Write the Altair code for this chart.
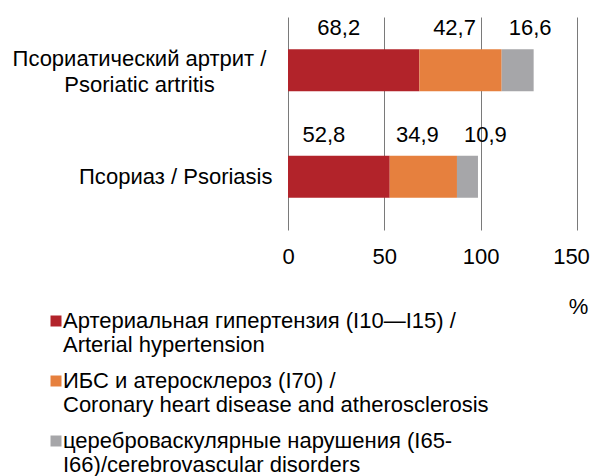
import altair as alt
import pandas as pd

FONT = "Liberation Sans"

categories = ["Псориатический артрит /\nPsoriatic artritis", "Псориаз / Psoriasis"]
series = [
    "Артериальная гипертензия (I10—I15) /\nArterial hypertension",
    "ИБС и атеросклероз (I70) /\nCoronary heart disease and atherosclerosis",
    "цереброваскулярные нарушения (I65-\nI66)/cerebrovascular disorders",
]
psa_values = [68.2, 42.7, 16.6]
pso_values = [52.8, 34.9, 10.9]
colors = ["#b2232a", "#e6803e", "#a6a6a9"]
x_ticks = [0, 50, 100, 150]

rows = []
for cat, vals in zip(categories, [psa_values, pso_values]):
    for i, (s, v) in enumerate(zip(series, vals)):
        rows.append({"category": cat, "series": s, "order": i, "value": v,
                     "label": f"{v:.1f}".replace(".", ",")})
df = pd.DataFrame(rows)

base = alt.Chart(df).transform_stack(
    stack="value", as_=["x0", "x1"], groupby=["category"], sort=[alt.SortField("order")]
).transform_calculate(mid="(datum.x0 + datum.x1) / 2")

is_psa = "indexof(datum.value, 'artritis') >= 0"

y_axis = alt.Axis(
    title=None, domain=False, ticks=False, tickSize=0,
    labelFontSize=22, labelFont=FONT, labelColor="black",
    labelExpr="split(datum.label, '\\n')", labelLineHeight=26, labelLimit=400,
    labelAlign={"condition": {"test": is_psa, "value": "center"}, "value": "right"},
    labelPadding={"condition": {"test": is_psa, "value": 149}, "value": 16},
    labelOffset={"condition": {"test": is_psa, "value": -11}, "value": 0},
)

x_axis = alt.Axis(
    values=x_ticks, grid=True, gridColor="#7a7a7a", gridWidth=1, domain=False,
    ticks=False, tickSize=0, labelFontSize=22, labelFont=FONT, labelColor="black",
    labelPadding=16, labelFlush=False,
    labelOffset={"condition": {"test": "datum.value == 150", "value": -6}, "value": 0},
    title="%", titleFontSize=22, titleFont=FONT, titleFontWeight="normal",
    titleColor="black", titleX=290, titleY=83, titleAlign="center",
    titleBaseline="alphabetic", titleAnchor="start",
)

legend = alt.Legend(
    title=None, orient="none", legendX=-243, legendY=293, padding=0,
    symbolType="square", symbolSize=121, symbolStrokeWidth=0,
    labelFontSize=22, labelFont=FONT, labelColor="black", labelLimit=600,
    labelExpr="split(datum.label, '\\n')", labelOffset={"expr": "-4"},
    rowPadding=14, labelBaseline="middle",
)

y_enc = alt.Y("category:N", sort=categories, axis=y_axis)

bars = base.mark_bar(size=42).encode(
    y=y_enc,
    x=alt.X("x0:Q", scale=alt.Scale(domain=[0, 150], nice=False), axis=x_axis),
    x2="x1:Q",
    color=alt.Color("series:N", scale=alt.Scale(domain=series, range=colors), legend=legend),
)

# per-series label placement (style only): anchor field, alignment and pixel nudge
label_styles = [("mid", "center", -15), ("mid", "center", -6), ("x0", "left", 7)]
texts = []
for i, (anchor, align, dx) in enumerate(label_styles):
    texts.append(
        base.transform_filter(f"datum.order == {i}")
        .mark_text(fontSize=22, font=FONT, baseline="alphabetic", align=align,
                   dx=dx, dy=-35, color="black")
        .encode(
            y=alt.Y("category:N", sort=categories),
            x=alt.X(f"{anchor}:Q"),
            text="label:N",
        )
    )

chart = alt.layer(bars, *texts).properties(
    width=289, height=213,
    padding={"left": 280, "top": 9, "right": 13, "bottom": 246},
    autosize=alt.AutoSizeParams(type="none"),
).configure(font=FONT).configure_view(stroke=None)

chart.save("out.html", embed_options={"renderer": "svg", "actions": False})
